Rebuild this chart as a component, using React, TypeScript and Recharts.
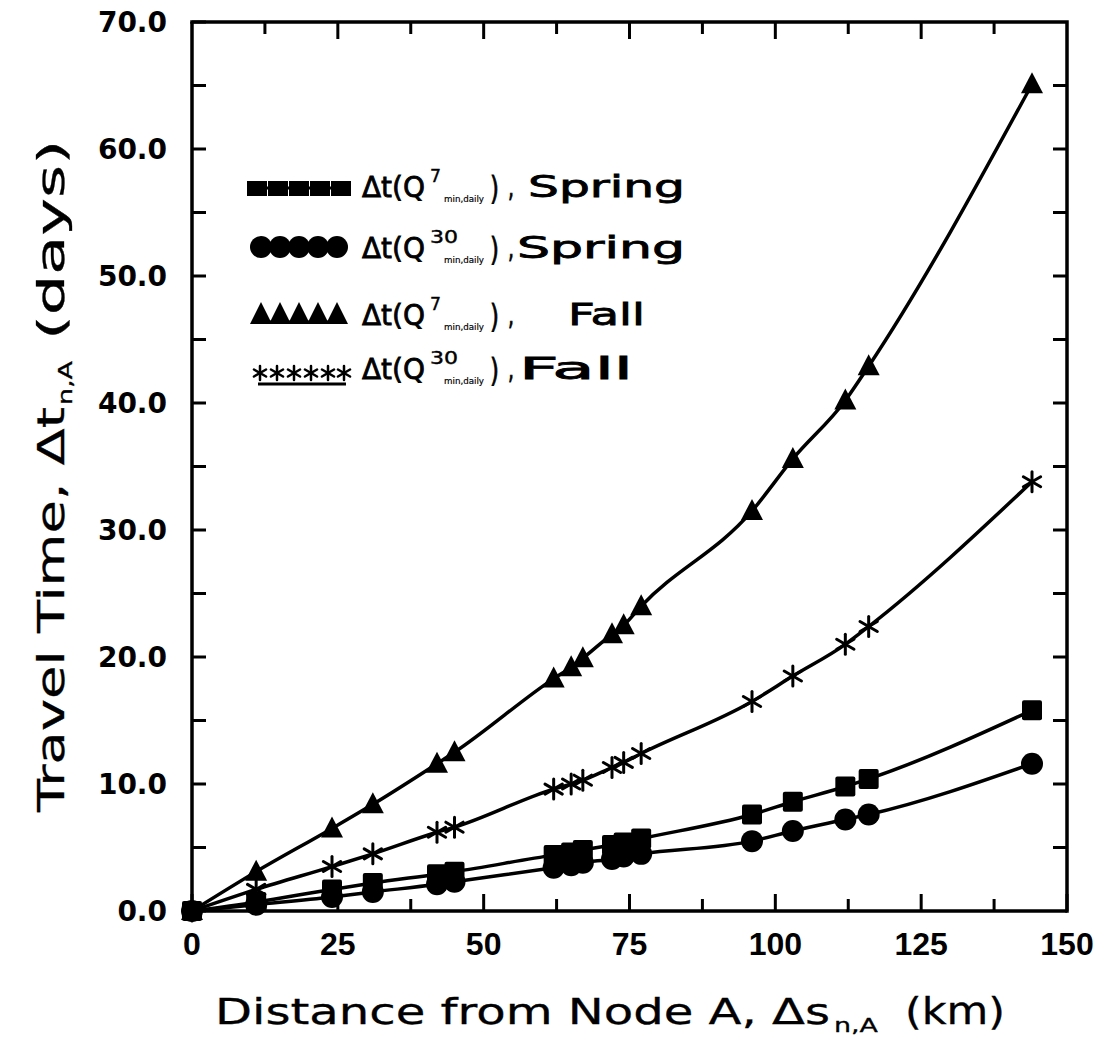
import React from 'react';
import { LineChart, Line, XAxis, YAxis, Customized } from 'recharts';

const distanceKm = [0, 11, 24, 31, 42, 45, 62, 65, 67, 72, 74, 77, 96, 103, 112, 116, 144];
const q7Spring = [0, 0.7, 1.7, 2.2, 2.9, 3.1, 4.4, 4.6, 4.8, 5.2, 5.4, 5.7, 7.6, 8.6, 9.8, 10.4, 15.8];
const q30Spring = [0, 0.5, 1.1, 1.5, 2.1, 2.3, 3.4, 3.6, 3.8, 4.1, 4.3, 4.5, 5.5, 6.3, 7.2, 7.6, 11.6];
const q7Fall = [0, 3.1, 6.5, 8.4, 11.6, 12.5, 18.3, 19.2, 19.9, 21.8, 22.5, 24.0, 31.5, 35.6, 40.2, 42.9, 65.1];
const q30Fall = [0, 1.7, 3.5, 4.5, 6.2, 6.6, 9.6, 10.0, 10.3, 11.3, 11.7, 12.4, 16.5, 18.5, 21.0, 22.4, 33.8];

const xTicks = [0, 12.5, 25, 37.5, 50, 62.5, 75, 87.5, 100, 112.5, 125, 137.5, 150];
const xLabelTicks = [0, 25, 50, 75, 100, 125, 150];
const yTicks = [0, 5, 10, 15, 20, 25, 30, 35, 40, 45, 50, 55, 60, 65, 70];
const yLabelTicks = [0, 10, 20, 30, 40, 50, 60, 70];
const X_MAX = 150;
const Y_MAX = 70;

const rows = distanceKm.map((d, i) => ({
  d,
  q7s: q7Spring[i],
  q30s: q30Spring[i],
  q7f: q7Fall[i],
  q30f: q30Fall[i],
}));

const W = 1108;
const H = 1045;
const M_TOP = 22;
const M_RIGHT = 41;
const Y_AXIS_W = 192;
const X_AXIS_H = 134;
const PLOT_L = Y_AXIS_W;
const PLOT_R = W - M_RIGHT;
const PLOT_T = M_TOP;
const PLOT_B = H - X_AXIS_H;

const INK = '#000';
const LEG_FONT = '"DejaVu Sans", sans-serif';

const BottomTick = (props: any) => {
  const { x, y, payload } = props;
  const v = payload.value;
  const major = xLabelTicks.includes(v);
  return (
    <g>
      <line x1={x} x2={x} y1={y} y2={y - (major ? 17 : 12)} stroke={INK} strokeWidth={3} />
      {major && (
        <text x={x} y={y + 44} textAnchor="middle" fontFamily='"Liberation Sans", Arial, sans-serif' fontWeight={700} fontSize={32} fill={INK}>
          {String(v)}
        </text>
      )}
    </g>
  );
};

const LeftTick = (props: any) => {
  const { x, y, payload } = props;
  const v = payload.value;
  const major = yLabelTicks.includes(v);
  return (
    <g>
      <line x1={x} x2={x + 14} y1={y} y2={y} stroke={INK} strokeWidth={3} />
      {major && (
        <text x={x - 25} y={y + 10} textAnchor="end" fontFamily='"DejaVu Sans", sans-serif' fontWeight={700} fontSize={28} fill={INK}>
          {v.toFixed(1)}
        </text>
      )}
    </g>
  );
};

// Mirrored top / right sides of the frame, with inward ticks at the same values as the main axes.
const MirrorFrame = () => {
  const sx = (v: number) => PLOT_L + (v / X_MAX) * (PLOT_R - PLOT_L);
  const sy = (v: number) => PLOT_B - (v / Y_MAX) * (PLOT_B - PLOT_T);
  return (
    <svg
      width={W}
      height={H}
      style={{ position: 'absolute', left: 0, top: 0, pointerEvents: 'none', zIndex: 2, overflow: 'visible' }}
    >
      <path
        d={`M${PLOT_L - 1.75},${PLOT_T} H${PLOT_R} V${PLOT_B + 1.75}`}
        fill="none"
        stroke={INK}
        strokeWidth={3.5}
      />
      {xTicks.slice(1, -1).map((t) => (
        <line key={`tt${t}`} x1={sx(t)} x2={sx(t)} y1={PLOT_T} y2={PLOT_T + (xLabelTicks.includes(t) ? 17 : 12)} stroke={INK} strokeWidth={3} />
      ))}
      {yTicks.slice(1, -1).map((t) => (
        <line key={`rt${t}`} x1={PLOT_R} x2={PLOT_R - 14} y1={sy(t)} y2={sy(t)} stroke={INK} strokeWidth={3} />
      ))}
    </svg>
  );
};

const squareDot = (p: any) => (
  <rect key={`sq-${p.index}`} x={p.cx - 10} y={p.cy - 10} width={20} height={20} rx={2} fill={INK} />
);
const circleDot = (p: any) => <circle key={`ci-${p.index}`} cx={p.cx} cy={p.cy} r={11} fill={INK} />;
const triangleDot = (p: any) => (
  <path key={`tr-${p.index}`} d={`M${p.cx},${p.cy - 12} L${p.cx + 11},${p.cy + 9} L${p.cx - 11},${p.cy + 9} Z`} fill={INK} />
);
const starShape = (cx: number, cy: number, r: number, key: string, w = 3) => (
  <g key={key} stroke={INK} strokeWidth={w} strokeLinecap="round">
    <line x1={cx} y1={cy - r} x2={cx} y2={cy + r} />
    <line x1={cx - r * 0.866} y1={cy - r * 0.5} x2={cx + r * 0.866} y2={cy + r * 0.5} />
    <line x1={cx - r * 0.866} y1={cy + r * 0.5} x2={cx + r * 0.866} y2={cy - r * 0.5} />
  </g>
);
const starDot = (p: any) => starShape(p.cx, p.cy, 10, `st-${p.index}`);

const Part = ({ x, y, len, size, children, sw = 0.8 }: any) => (
  <text
    x={x}
    y={y}
    fontFamily={LEG_FONT}
    fontSize={size}
    fill={INK}
    stroke={INK}
    strokeWidth={sw}
    textLength={len}
    lengthAdjust="spacingAndGlyphs"
  >
    {children}
  </text>
);

const LegendLabel = ({ y, sup, supLen, tail, tailX, tailLen }: any) => (
  <g>
    <Part x={362} y={y} len={63} size={29}>Δt(Q</Part>
    <Part x={430} y={y - 15} len={supLen} size={17} sw={0.4}>{sup}</Part>
    <Part x={444} y={y + 5} len={40} size={9.5} sw={0.2}>min,daily</Part>
    <Part x={490} y={y + 2} len={9} size={32}>)</Part>
    <Part x={508} y={y} len={6} size={29}>,</Part>
    <Part x={tailX} y={y} len={tailLen} size={31}>{tail}</Part>
  </g>
);

const LegendBlock = () => {
  const sq = [257, 278, 299, 320, 341];
  const ci = [261, 280, 299, 318, 337];
  const st = [264, 281, 298, 315, 332, 348];
  return (
    <g>
      <line x1={252} x2={346} y1={188} y2={188} stroke={INK} strokeWidth={3} />
      {sq.map((cx, i) => (
        <rect key={`lsq${i}`} x={cx - 10} y={181} width={20} height={15} fill={INK} />
      ))}
      <LegendLabel y={197} sup="7" supLen={11} tail="Spring" tailX={528} tailLen={157} />
      {ci.map((cx, i) => (
        <circle key={`lci${i}`} cx={cx} cy={247} r={11} fill={INK} />
      ))}
      <LegendLabel y={258} sup="30" supLen={28} tail="Spring" tailX={517} tailLen={168} />
      <line x1={252} x2={346} y1={322} y2={322} stroke={INK} strokeWidth={3} />
      {ci.map((cx, i) => (
        <path key={`ltr${i}`} d={`M${cx},${302} L${cx + 11},${324} L${cx - 11},${324} Z`} fill={INK} />
      ))}
      <LegendLabel y={325} sup="7" supLen={11} tail="Fall" tailX={568} tailLen={77} />
      <line x1={258} x2={346} y1={384} y2={384} stroke={INK} strokeWidth={3} />
      {st.map((cx, i) => starShape(cx - 4, 373, 7, `lst${i}`, 2.5))}
      <LegendLabel y={379} sup="30" supLen={28} tail="Fall" tailX={519} tailLen={114} />
    </g>
  );
};

const AxisTitles = () => (
  <g>
    <Part x={215} y={1024} len={615} size={36} sw={0.3}>Distance  from  Node  A,  Δs</Part>
    <Part x={834} y={1032} len={44} size={20} sw={0.3}>n,A</Part>
    <Part x={905} y={1024} len={100} size={38} sw={0.3}>(km)</Part>
    <g transform="rotate(-90)">
      <Part x={-812} y={64} len={405} size={38} sw={0.3}>Travel  Time,  Δt</Part>
      <Part x={-405} y={72} len={44} size={20} sw={0.3}>n,A</Part>
      <Part x={-340} y={64} len={200} size={38} sw={0.3}>(days)</Part>
    </g>
  </g>
);

export default function App() {
  return (
    <div style={{ position: 'absolute', left: 0, top: 0, width: W, height: H, background: '#fff' }}>
      <LineChart width={W} height={H} data={rows} margin={{ top: M_TOP, right: M_RIGHT, left: 0, bottom: 0 }}>
        <XAxis
          dataKey="d"
          type="number"
          domain={[0, X_MAX]}
          ticks={xTicks}
          interval={0}
          height={X_AXIS_H}
          axisLine={{ stroke: INK, strokeWidth: 3.5 }}
          tickLine={false}
          tickSize={0}
          tickMargin={0}
          tick={<BottomTick />}
        />
        <YAxis
          type="number"
          domain={[0, Y_MAX]}
          ticks={yTicks}
          interval={0}
          width={Y_AXIS_W}
          axisLine={{ stroke: INK, strokeWidth: 3.5 }}
          tickLine={false}
          tickSize={0}
          tickMargin={0}
          tick={<LeftTick />}
        />
        <Line type="monotone" dataKey="q7f" stroke={INK} strokeWidth={3.5} dot={triangleDot} isAnimationActive={false} />
        <Line type="monotone" dataKey="q30f" stroke={INK} strokeWidth={3.5} dot={starDot} isAnimationActive={false} />
        <Line type="monotone" dataKey="q7s" stroke={INK} strokeWidth={3.5} dot={squareDot} isAnimationActive={false} />
        <Line type="monotone" dataKey="q30s" stroke={INK} strokeWidth={3.5} dot={circleDot} isAnimationActive={false} />
        <Customized component={<LegendBlock />} />
        <Customized component={<AxisTitles />} />
      </LineChart>
      <MirrorFrame />
    </div>
  );
}
